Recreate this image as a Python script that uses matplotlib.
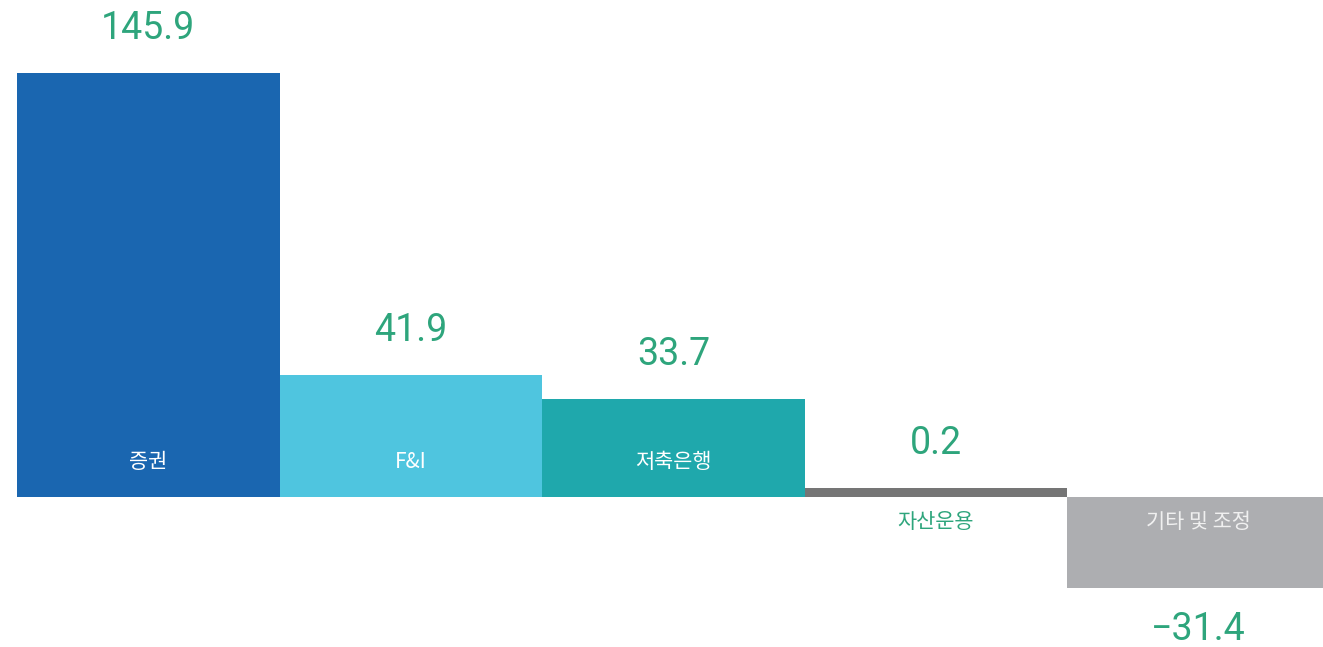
import numpy as np
import matplotlib
matplotlib.use('Agg')
import matplotlib.pyplot as plt

# 데이터
categories = ['증권', 'F&I', '저축은행', '자산운용', '기타 및 조정']
values = [145.9, 41.9, 33.7, 0.2, -31.4]
bar_colors = ['#1a66b0', '#4fc5df', '#1fa8ac', '#757575', '#adaeb1']
cat_colors = ['white', 'white', 'white', '#2ea57c', '#f0f0f0']

value_color = '#2ea57c'
min_h = 3.0  # 아주 작은 값도 보이도록 최소 표시 높이

plt.rcParams['font.family'] = ['Noto Sans CJK KR', 'DejaVu Sans']

fig = plt.figure(figsize=(13.23, 6.47), dpi=100)
ax = fig.add_axes([0, 0, 1, 1])

x = np.arange(len(values))
vals = np.array(values)
shown = np.where(np.abs(vals) < min_h, np.sign(vals) * min_h, vals)

ax.bar(x, shown, width=1.0, color=bar_colors, linewidth=0)

for i, v in enumerate(values):
    # 값 라벨
    dy = 32 if shown[i] >= 0 else -30
    ax.annotate('{:.1f}'.format(v).replace('-', '−'), xy=(x[i], shown[i]), xytext=(0, dy),
                textcoords='offset points', ha='center', va='center',
                fontsize=27, color=value_color,
                family=['Roboto', 'DejaVu Sans'])
    # 항목 라벨
    ly = 25 if v > min_h else -18
    ax.annotate(categories[i], xy=(x[i], 0), xytext=(0, ly),
                textcoords='offset points', ha='center', va='center',
                fontsize=15, color=cat_colors[i])

ax.set_xlim(-0.565, 4.475)
ax.set_ylim(-51.6, 171.0)
ax.axis('off')

fig.savefig('out.png', dpi=100, facecolor='white')
